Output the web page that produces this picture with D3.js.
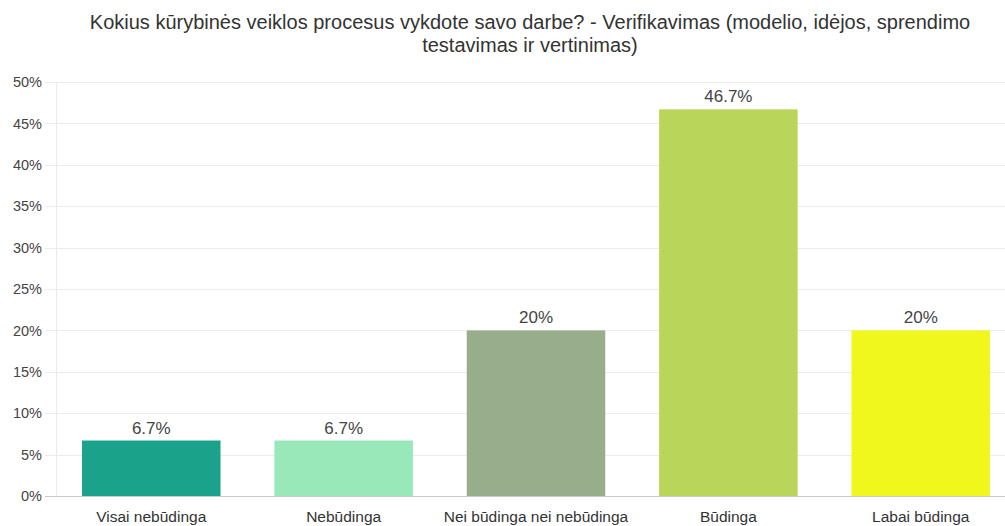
<!DOCTYPE html>
<html>
<head>
<meta charset="utf-8">
<script src="https://cdn.jsdelivr.net/npm/d3@7"></script>
<style>
  html, body { margin: 0; padding: 0; background: #fff; }
  svg { display: block; font-family: "Liberation Sans", Arial, sans-serif; }
</style>
</head>
<body>
<svg id="chart" width="1005" height="526"></svg>
<script>
// Survey answers and their shares (percent)
const categories = ["Visai nebūdinga", "Nebūdinga", "Nei būdinga nei nebūdinga", "Būdinga", "Labai būdinga"];
const values = [6.7, 6.7, 20, 46.7, 20];
const valueLabels = ["6.7%", "6.7%", "20%", "46.7%", "20%"];
const colors = ["#1aa28a", "#98e8b9", "#97ad8c", "#bad65a", "#f0f71c"];
const yTicks = [0, 5, 10, 15, 20, 25, 30, 35, 40, 45, 50];
const titleLines = [
  "Kokius kūrybinės veiklos procesus vykdote savo darbe? - Verifikavimas (modelio, idėjos, sprendimo",
  "testavimas ir vertinimas)"
];

const svg = d3.select("#chart");
const plot = { left: 57, right: 1015, top: 82, bottom: 496 };

const x = d3.scaleBand()
  .domain(categories)
  .range([plot.left, plot.right])
  .paddingInner(0.28)
  .paddingOuter(0.13);

const y = d3.scaleLinear()
  .domain([0, 50])
  .range([plot.bottom, plot.top]);

// Title
svg.append("g")
  .selectAll("text")
  .data(titleLines)
  .join("text")
  .attr("x", 530)
  .attr("y", (d, i) => 29 + i * 23)
  .attr("text-anchor", "middle")
  .attr("font-size", 20)
  .attr("fill", "#333")
  .text(d => d);

// Horizontal gridlines
svg.append("g")
  .selectAll("line")
  .data(yTicks.filter(t => t > 0))
  .join("line")
  .attr("x1", 45)
  .attr("x2", 1005)
  .attr("y1", d => Math.round(y(d)) + 0.5)
  .attr("y2", d => Math.round(y(d)) + 0.5)
  .attr("stroke", "#ebebeb")
  .attr("stroke-width", 1);

// Vertical axis line
svg.append("line")
  .attr("x1", plot.left - 0.5)
  .attr("x2", plot.left - 0.5)
  .attr("y1", plot.top)
  .attr("y2", plot.bottom)
  .attr("stroke", "#ebebeb");

// Y axis labels
const yAxis = d3.axisLeft(y)
  .tickValues(yTicks)
  .tickFormat(d => d + "%")
  .tickSize(0)
  .tickPadding(0);

const yg = svg.append("g")
  .attr("transform", "translate(42,0)")
  .call(yAxis);
yg.select(".domain").remove();
yg.selectAll("text")
  .attr("font-size", 14.5)
  .attr("fill", "#444")
  .attr("font-family", "Liberation Sans, Arial, sans-serif");

// Bars
svg.append("g")
  .selectAll("rect")
  .data(values)
  .join("rect")
  .attr("x", (d, i) => x(categories[i]))
  .attr("width", x.bandwidth())
  .attr("y", d => y(d))
  .attr("height", d => y(0) - y(d))
  .attr("fill", (d, i) => colors[i]);

// Baseline
svg.append("line")
  .attr("x1", 45)
  .attr("x2", 1005)
  .attr("y1", plot.bottom + 0.5)
  .attr("y2", plot.bottom + 0.5)
  .attr("stroke", "#c8c8c8");

// Value labels
svg.append("g")
  .selectAll("text")
  .data(values)
  .join("text")
  .attr("x", (d, i) => x(categories[i]) + x.bandwidth() / 2)
  .attr("y", d => y(d) - 7)
  .attr("text-anchor", "middle")
  .attr("font-size", 17)
  .attr("fill", "#444")
  .text((d, i) => valueLabels[i]);

// X axis labels
const xAxis = d3.axisBottom(x).tickSize(0).tickPadding(0);
const xg = svg.append("g")
  .attr("transform", `translate(0,${plot.bottom})`)
  .call(xAxis);
xg.select(".domain").remove();
xg.selectAll("text")
  .attr("dy", null)
  .attr("y", 25.5)
  .attr("font-size", 15.5)
  .attr("fill", "#333")
  .attr("font-family", "Liberation Sans, Arial, sans-serif");
</script>
</body>
</html>
